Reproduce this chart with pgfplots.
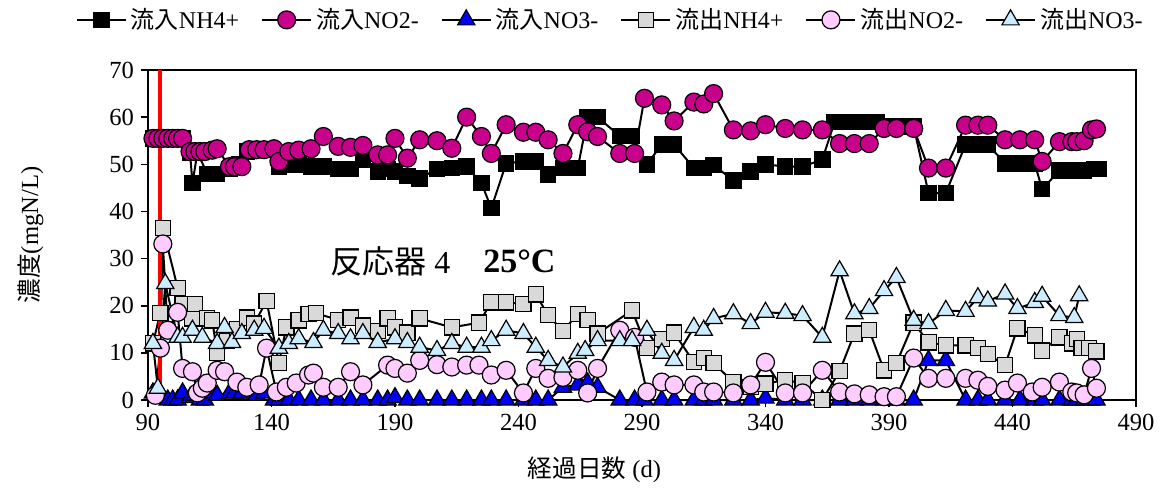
\documentclass[border=0pt]{standalone}
\usepackage{fontspec}
\setmainfont{Liberation Serif}
\newfontfamily\jp{Noto Sans CJK JP}
\usepackage{pgfplots}
\pgfplotsset{compat=1.18}
\definecolor{magc}{RGB}{200,0,140}
\definecolor{pinkc}{RGB}{255,204,255}
\definecolor{lbluec}{RGB}{204,236,255}
\definecolor{grayc}{RGB}{217,217,217}
\begin{document}
\begin{tikzpicture}
\useasboundingbox (-74pt,-47pt) rectangle (507.5pt,200pt);
\begin{axis}[
  width=494pt, height=165pt, scale only axis,
  xmin=90, xmax=490, ymin=0, ymax=70,
  xtick={90,140,...,490}, ytick={0,10,...,70},
  tick align=outside, tick pos=left, major tick length=3.5pt,
  major tick style={line width=0.8pt,black},
  clip=false,
  axis line style={line width=1pt},
  /pgf/number format/assume math mode=true,
  tick label style={font=\fontsize{12.3}{14}\selectfont},
  xlabel={{\jp 経過日数} (d)},
  ylabel={{\jp 濃度}(mgN/L)},
  label style={font=\fontsize{12.3}{14}\selectfont},
  xlabel style={at={(axis description cs:0.452,-0.212)}, anchor=center},
  ylabel style={at={(axis description cs:-0.119,0.5)}, anchor=center},
  legend columns=6,
  legend image code/.code={\draw[mark repeat=2,mark phase=2] plot coordinates {(0cm,0cm) (0.43cm,0cm) (0.86cm,0cm)};},
  legend style={draw=none, at={(axis description cs:0.469,1.152)}, anchor=center,
    font=\fontsize{12}{14}\selectfont,
    /tikz/every even column/.append style={column sep=9pt}},
  every axis plot/.append style={line width=1pt, black},
]
% Influent NH4+
\addplot[mark=square*, mark size=3.8pt, mark options={fill=black, draw=black, line width=0.6pt}] coordinates {
(92,55.5) (94,55.5) (96,55.5) (98,55.5) (100,55.5) (102,55.5) (104,55.5) (107,52.5) (108,46) (110,52.5)
(114,48) (118,48) (123,49) (127,50) (130,52.7) (134,53) (138,53) (143,49.5) (147,50) (151,50)
(156,49.5) (161,49.5) (167,49) (172,49) (177,51) (183,48.5) (187,49) (190,48.5) (195,47.5) (200,47)
(207,49) (213,49.2) (219,49.5) (225,46) (229,40.7) (235,50.2) (242,50.6) (247,50.6) (252,47.8) (258,49.2)
(264,49.2) (268,60) (272,60) (281,56) (286,56) (292,50) (298,54.2) (303,54.2) (311,49.2) (315,49.2)
(319,49.8) (327,46.6) (334,48.5) (340,50) (348,49.5) (355,49.5) (363,51) (368,59) (374,59) (380,59)
(385,59) (390,58) (395,58) (400,58) (406,43.9) (413,43.9) (421,54.2) (426,54.2) (430,54.2) (437,50.2)
(443,50.2) (449,50.2) (452,44.7) (459,48.7) (464,48.7) (467,48.7) (469,48.7) (473,49) (475,49)
};
\addlegendentry{{\jp 流入}NH4+}
% Influent NO2-
\addplot[mark=*, mark size=4.5pt, mark options={fill=magc, draw=black, line width=0.6pt}] coordinates {
(92,55.5) (94,55.5) (96,55.5) (98,55.5) (100,55.5) (102,55.5) (104,55.5) (107,52.7) (109,52.7) (111,52.7)
(113,52.7) (116,53) (118,53.3) (123,49.5) (125,49.5) (128,49.5) (131,53.1) (134,53.1) (137,53.1) (141,53.3)
(143,50.6) (147,52.7) (151,53) (156,53.3) (161,55.9) (167,53.8) (172,53.6) (177,54) (183,52) (187,52)
(190,55.5) (195,51.3) (200,55.2) (207,55) (213,53.4) (219,60) (225,55.9) (229,52.3) (235,58.4) (242,56.8)
(247,56.8) (252,55.2) (258,52.3) (264,58.4) (268,56.9) (272,55.9) (281,52.3) (287,52.3) (291,64) (298,62.6)
(303,59.2) (311,63.2) (315,62.8) (319,65) (327,57.3) (334,57.1) (340,58.4) (348,57.6) (355,57.3) (363,57.3)
(370,54.4) (376,54.4) (382,54.4) (388,57.6) (393,57.6) (400,57.6) (406,49.2) (413,49.2) (421,58.3) (426,58.3)
(430,58.3) (437,55.2) (443,55.2) (449,55.2) (452,50.6) (459,54.8) (464,54.8) (466,54.8) (469,55) (472,57.3) (474,57.5)
};
\addlegendentry{{\jp 流入}NO2-}
% Influent NO3-
\addplot[mark=triangle*, mark size=5pt, mark options={fill=blue, draw=black, line width=0.6pt}] coordinates {
(92,1.5) (94,1) (96,0.5) (98,0) (100,0) (102,0) (104,1.5) (107,0.5) (109,1) (111,0)
(113,0) (116,1.5) (118,1) (123,1.5) (125,1.5) (128,1.5) (131,1.5) (134,1) (137,1.5) (141,0)
(143,0) (147,0) (151,0) (156,0) (161,0) (167,0) (172,0) (177,0) (183,0) (187,0)
(190,0.5) (195,0) (200,0) (207,0) (213,0) (219,0) (225,0) (229,0) (235,0) (242,0)
(247,0) (252,0) (258,2.7) (264,3.2) (268,3.6) (272,2.7) (281,0) (287,0) (291,0) (298,0)
(303,0) (311,0) (315,0) (319,0) (327,0) (334,0) (340,0.4) (348,0) (355,0) (363,0)
(370,0) (376,0) (382,0) (388,0) (393,0) (400,0) (406,8.4) (413,8.4) (421,0) (426,0)
(430,0) (437,0) (443,0) (449,0) (452,0) (459,0) (464,0) (466,0) (469,0) (472,0) (474,0)
};
\addlegendentry{{\jp 流入}NO3-}
% Effluent NH4+
\addplot[mark=square*, mark size=3.8pt, mark options={fill=grayc, draw=black, line width=0.6pt}] coordinates {
(92,12) (95,18.5) (96,36.5) (102,23.8) (104,20.4) (108,17.3) (109,20.4) (114,17.3) (116,16.9) (118,10)
(122,12.6) (126,15) (130,17.5) (133,16.2) (138,21) (143,7.8) (146,15.4) (151,16.9) (155,18.3) (158,18.4)
(167,17) (172,17.5) (177,15.8) (183,14.6) (187,17.3) (190,15.4) (195,14.3) (200,17.3) (213,15.4) (224,16.4)
(229,20.7) (235,20.7) (242,20.4) (247,22.4) (252,18) (258,14.6) (264,18.3) (268,17) (272,14.1) (286,19)
(292,11) (298,13) (303,14.3) (311,8) (315,8.9) (319,7.8) (327,3.8) (334,2.7) (340,3.5) (348,4.2)
(355,3.6) (363,0) (370,6.1) (376,14.1) (382,14.8) (388,6.3) (393,7.8) (400,16.4) (406,12.2) (413,11.6)
(421,11.6) (426,11) (430,9.7) (437,7.4) (442,15.2) (449,13.7) (452,10.5) (459,13.3) (464,12) (466,13)
(468,11) (471,11) (474,10.3)
};
\addlegendentry{{\jp 流出}NH4+}
% Effluent NO2-
\addplot[mark=*, mark size=4.5pt, mark options={fill=pinkc, draw=black, line width=0.6pt}] coordinates {
(93,1) (95,11) (96,33.1) (98,14.8) (102,18.6) (104,6.7) (108,6) (110,1.5) (112,2.5) (114,3.6)
(118,6.3) (121,6) (126,3.8) (130,2.7) (135,3.2) (138,11) (142,1.7) (146,2.7) (150,3.6) (155,5.3)
(157,5.7) (161,2.7) (167,2.7) (172,6) (177,3.2) (187,7.4) (190,6.7) (195,5.7) (200,8.4) (207,7.5)
(213,7) (219,7.4) (224,7.4) (229,5.3) (235,6.3) (242,1.5) (247,6.7) (252,4.6) (258,4.8) (264,6.3)
(268,1.5) (272,6.7) (281,14.8) (287,13.3) (292,1.7) (298,3.8) (303,3.2) (311,3.2) (315,1.7) (319,1.7)
(327,1.5) (334,3.2) (340,8) (348,1.5) (355,1.5) (363,6.3) (370,1.7) (376,1.3) (382,1.1) (388,0.7)
(393,0.7) (400,8.9) (406,4.6) (413,4.6) (421,4.6) (426,4.2) (430,2.9) (437,2.1) (442,3.6) (448,1.7)
(452,2.7) (459,3.8) (464,1.7) (466,1.5) (469,1.1) (472,6.7) (474,2.5)
};
\addlegendentry{{\jp 流出}NO2-}
% Effluent NO3-
\addplot[mark=triangle*, mark size=5pt, mark options={fill=lbluec, draw=black, line width=0.6pt}] coordinates {
(92,12) (94,2.5) (97,24.7) (102,13.3) (104,13.3) (108,14.8) (112,13.3) (118,12) (121,15.4) (124,12.2)
(128,14.1) (133,14.8) (137,15.2) (143,11) (147,12) (151,13) (157,12.2) (161,14.8) (167,14.1) (172,13)
(177,14.1) (183,12.2) (190,13) (195,12.2) (200,11.2) (207,10.5) (213,12) (219,11.2) (225,11.2) (229,12.6)
(235,14.8) (242,14.1) (247,11.2) (252,8.4) (258,7) (264,9.9) (267,10.5) (272,12.6) (281,12.6) (286,12.6)
(292,14.8) (298,9.9) (303,8.4) (311,15.4) (315,14.8) (319,17.3) (327,18.3) (334,16.2) (340,18.6) (348,18.4)
(355,17.9) (363,13.3) (370,27.4) (376,18.3) (382,19.4) (388,23.2) (393,26) (400,16.9) (406,16.2) (413,19)
(421,18.8) (426,21.7) (430,21) (437,22.5) (442,19.4) (449,20.7) (452,22) (459,17.9) (465,17.5) (467,22.1)
};
\addlegendentry{{\jp 流出}NO3-}
\addplot[red, line width=2pt, forget plot, mark=none] coordinates {(95,0) (95,70)};
\node[anchor=west, font=\fontsize{16}{18}\selectfont, inner sep=0pt] at (axis cs:163.7,29.5)
  {{\jp 反応器} 4};
\node[anchor=west, font=\fontsize{17}{19}\selectfont\bfseries, inner sep=0pt] at (axis cs:225.6,29.5)
  {25°C};
\end{axis}
\end{tikzpicture}
\end{document}
